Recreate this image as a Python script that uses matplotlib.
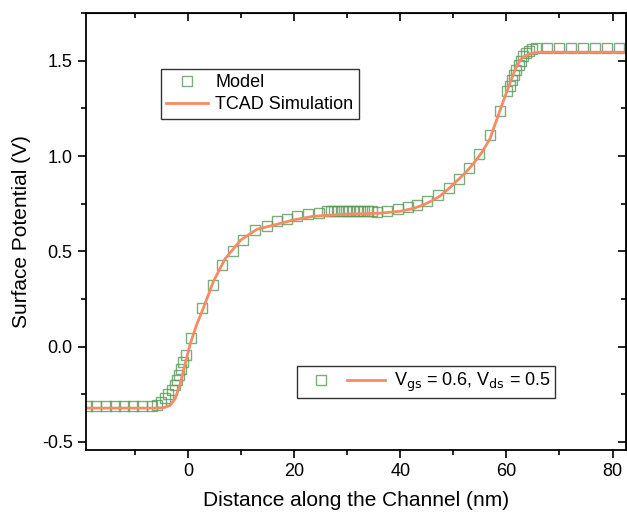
import numpy as np
import matplotlib.pyplot as plt
from matplotlib.legend_handler import HandlerTuple
from matplotlib.ticker import MultipleLocator

plt.rcParams['font.family'] = ['Liberation Sans', 'DejaVu Sans']

# ---------------- data ----------------
model_x = [-19.0, -17.3, -15.5, -13.8, -12.0, -10.3, -8.6, -6.8,
           -5.84, -5.03, -4.28, -3.65, -3.02, -2.39, -1.95, -1.57, -1.32, -0.94, -0.32,
           0.62, 2.63, 4.82, 6.5, 8.5, 10.4, 12.7, 14.9, 16.8, 18.6, 20.6, 22.7, 24.7,
           26.2, 26.9, 27.6, 28.3, 29.0, 29.7, 30.4, 31.1, 31.8, 32.5, 33.2, 33.9, 34.7,
           35.6, 37.6, 39.5, 41.4, 43.2, 45.1, 47.2, 49.1, 51.0, 53.0, 54.9, 56.9, 58.8,
           60.1, 60.6, 61.0, 61.4, 61.8, 62.3, 62.7, 63.2, 63.7, 64.2, 64.8, 65.5,
           67.7, 69.9, 72.2, 74.5, 76.7, 79.0, 81.3]
model_v = [-0.31, -0.31, -0.31, -0.31, -0.31, -0.31, -0.31, -0.31,
           -0.309, -0.292, -0.269, -0.248, -0.226, -0.200, -0.175, -0.149, -0.118, -0.083, -0.043,
           0.047, 0.203, 0.325, 0.43, 0.50, 0.56, 0.61, 0.635, 0.66, 0.672, 0.684, 0.695, 0.700,
           0.71, 0.71, 0.71, 0.71, 0.71, 0.71, 0.71, 0.71, 0.71, 0.71, 0.71, 0.71, 0.71,
           0.705, 0.71, 0.72, 0.73, 0.745, 0.764, 0.794, 0.83, 0.877, 0.9375, 1.01, 1.11, 1.236,
           1.339, 1.37, 1.398, 1.425, 1.453, 1.48, 1.50, 1.523, 1.54, 1.552, 1.561, 1.566,
           1.566, 1.566, 1.566, 1.566, 1.566, 1.566, 1.566]

tcad_x = [-19.2, -10.0, -5.5, -4.6, -3.33, -2.39, -1.45, -0.51, 0.43, 1.69, 2.94, 4.82,
          7.0, 10.0, 13.0, 17.4, 20.0, 23.7, 30.0, 36.2, 40.0, 42.5, 44.5, 46.3, 47.5,
          49.4, 50.7, 52.2, 53.8, 55.4, 56.9, 58.8, 60.1, 61.6, 62.5, 63.2, 64.5, 65.5,
          66.3, 75.0, 82.6]
tcad_v = [-0.323, -0.323, -0.323, -0.321, -0.309, -0.274, -0.196, -0.092, 0.012, 0.117,
          0.203, 0.342, 0.46, 0.56, 0.615, 0.646, 0.665, 0.684, 0.695, 0.700, 0.71,
          0.725, 0.745, 0.77, 0.79, 0.835, 0.87, 0.91, 0.96, 1.02, 1.09, 1.24, 1.34,
          1.45, 1.50, 1.52, 1.537, 1.542, 1.545, 1.545, 1.545]

fig = plt.figure(figsize=(6.27, 5.14), dpi=100)
ax = fig.add_axes([0.137, 0.1245, 0.862, 0.850])

sq, = ax.plot(model_x, model_v, 's', ls='none', ms=6.5, mfc='none',
              mec='#5a9a5a', mew=1.0, alpha=0.8, label='Model')
ln, = ax.plot(tcad_x, tcad_v, '-', color='#fa8a64', lw=2.0, label='TCAD Simulation')

ax.set_xlim(-19.2, 82.6)
ax.set_ylim(-0.543, 1.75)
ax.xaxis.set_major_locator(MultipleLocator(20))
ax.xaxis.set_minor_locator(MultipleLocator(10))
ax.yaxis.set_major_locator(MultipleLocator(0.5))
ax.yaxis.set_minor_locator(MultipleLocator(0.25))
ax.yaxis.set_major_formatter(plt.FuncFormatter(lambda v, p: f'{v:.1f}'))

ax.tick_params(which='major', direction='out', length=6, width=1.2, labelsize=13)
ax.tick_params(which='minor', direction='out', length=3.5, width=1.2)
for s in ax.spines.values():
    s.set_linewidth(1.3)

# top/right axes with inward ticks
axt = ax.secondary_xaxis('top')
axt.xaxis.set_major_locator(MultipleLocator(20))
axt.xaxis.set_minor_locator(MultipleLocator(10))
axt.tick_params(which='major', direction='in', length=6, width=1.2, labeltop=False)
axt.tick_params(which='minor', direction='in', length=3.5, width=1.2)
axr = ax.secondary_yaxis('right')
axr.yaxis.set_major_locator(MultipleLocator(0.5))
axr.yaxis.set_minor_locator(MultipleLocator(0.25))
axr.tick_params(which='major', direction='in', length=6, width=1.2, labelright=False)
axr.tick_params(which='minor', direction='in', length=3.5, width=1.2)

ax.set_xlabel('Distance along the Channel (nm)', fontsize=15, labelpad=8)
ax.set_ylabel('Surface Potential (V)', fontsize=15, labelpad=8)

leg1 = ax.legend(handles=[sq, ln], loc='upper left', bbox_to_anchor=(0.139, 0.873),
                 fontsize=13, frameon=True, fancybox=False, edgecolor='black',
                 handlelength=2.3, borderpad=0.3, labelspacing=0.3, handletextpad=0.4,
                 borderaxespad=0)
leg1.get_frame().set_linewidth(1.0)
ax.add_artist(leg1)

leg2 = ax.legend(handles=[(sq, ln)], labels=['V$_{\\rm gs}$ = 0.6, V$_{\\rm ds}$ = 0.5'],
                 handler_map={tuple: HandlerTuple(ndivide=None, pad=0.4)},
                 loc='upper left', bbox_to_anchor=(0.391, 0.192), fontsize=13,
                 frameon=True, fancybox=False, edgecolor='black', handlelength=4.6,
                 borderpad=0.25, handletextpad=0.5, borderaxespad=0)
leg2.get_frame().set_linewidth(1.0)

fig.savefig('out.png', dpi=100)
